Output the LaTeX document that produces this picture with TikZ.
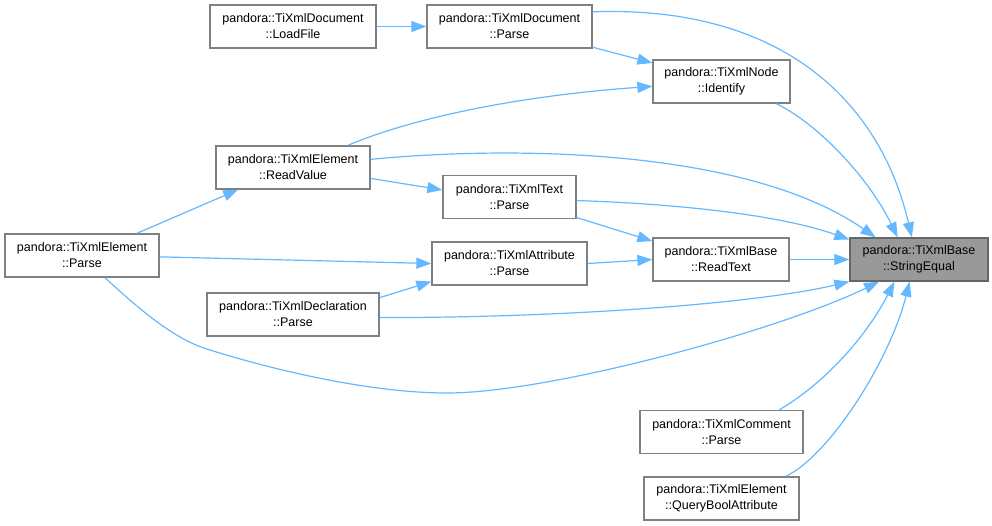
\documentclass[tikz,border=0pt]{standalone}
\usepackage{fontspec}
\setmainfont{Liberation Sans}
\usetikzlibrary{arrows.meta}
\definecolor{edgeblue}{HTML}{63B8FF}
\definecolor{boxborder}{HTML}{808080}
\definecolor{hlfill}{HTML}{999999}
\definecolor{hlborder}{HTML}{666666}
\tikzset{
  fn/.style={draw=boxborder, line width=1.3pt, fill=white, rectangle, align=center,
    minimum height=43pt, inner sep=1pt, font=\fontsize{12.5}{16}\selectfont},
  hl/.style={fn, draw=hlborder, fill=hlfill},
  call/.style={draw=edgeblue, line width=1.2pt, -{Triangle[length=15pt,width=11pt]}},
}
\begin{document}
\begin{tikzpicture}[x=1pt,y=-1pt]
\useasboundingbox (0,0) rectangle (992,525);

\node[fn, minimum width=166pt] (loadfile) at (293,26.5) {pandora::TiXmlDocument\\::LoadFile};
\node[fn, minimum width=165pt] (docparse) at (509.5,26.5) {pandora::TiXmlDocument\\::Parse};
\node[fn, minimum width=137pt] (identify) at (721.5,81.5) {pandora::TiXmlNode\\::Identify};
\node[fn, minimum width=154pt] (readvalue) at (293,167.5) {pandora::TiXmlElement\\::ReadValue};
\node[fn, minimum width=133pt] (textparse) at (509.5,197) {pandora::TiXmlText\\::Parse};
\node[fn, minimum width=154pt] (elemparse) at (82,255.5) {pandora::TiXmlElement\\::Parse};
\node[fn, minimum width=155pt] (attrparse) at (509.5,263.5) {pandora::TiXmlAttribute\\::Parse};
\node[fn, minimum width=136pt] (readtext) at (721,259.5) {pandora::TiXmlBase\\::ReadText};
\node[fn, minimum width=172pt] (declparse) at (293,314.5) {pandora::TiXmlDeclaration\\::Parse};
\node[hl, minimum width=138pt] (se) at (919,259.5) {pandora::TiXmlBase\\::StringEqual};
\node[fn, minimum width=163pt] (commentparse) at (721.5,432) {pandora::TiXmlComment\\::Parse};
\node[fn, minimum width=155pt] (querybool) at (721.5,498.5) {pandora::TiXmlElement\\::QueryBoolAttribute};

% straight calls
\draw[call] (loadfile.east) -- (docparse.west);
\draw[call] (docparse.-14) -- (identify.165);
\draw[call] (readvalue.-8) -- (textparse.174);
\draw[call] (elemparse.22) -- (readvalue.202);
\draw[call] (textparse.-17) -- (readtext.165);
\draw[call] (elemparse.-1) -- (attrparse.west);
\draw[call] (attrparse.east) -- (readtext.west);
\draw[call] (readtext.east) -- (se.west);
\draw[call] (declparse.11) -- (attrparse.193);

% curved calls
\draw[call] (docparse.10) .. controls (780,5) and (880,100) .. (se.108);
\draw[call] (readvalue.22) .. controls (420,115) and (530,95) .. (identify.184);
\draw[call] (identify.-22) .. controls (820,125) and (870,180) .. (se.134);
\draw[call] (readvalue.6) .. controls (520,145) and (750,150) .. (se.153);
\draw[call] (textparse.-3) .. controls (680,204) and (780,215) .. (se.164);
\draw[call] (declparse.-2) .. controls (550,318) and (750,305) .. (se.south west);
\draw[call] (elemparse.-44) .. controls (140,310) and (175,340) .. (210,350)
  .. controls (290,375) and (380,393) .. (447,393)
  .. controls (550,393) and (780,330) .. (se.209);
\draw[call] (commentparse.21) .. controls (830,380) and (870,330) .. (se.222);
\draw[call] (querybool.19) .. controls (830,455) and (890,360) .. (se.247);
\end{tikzpicture}
\end{document}
